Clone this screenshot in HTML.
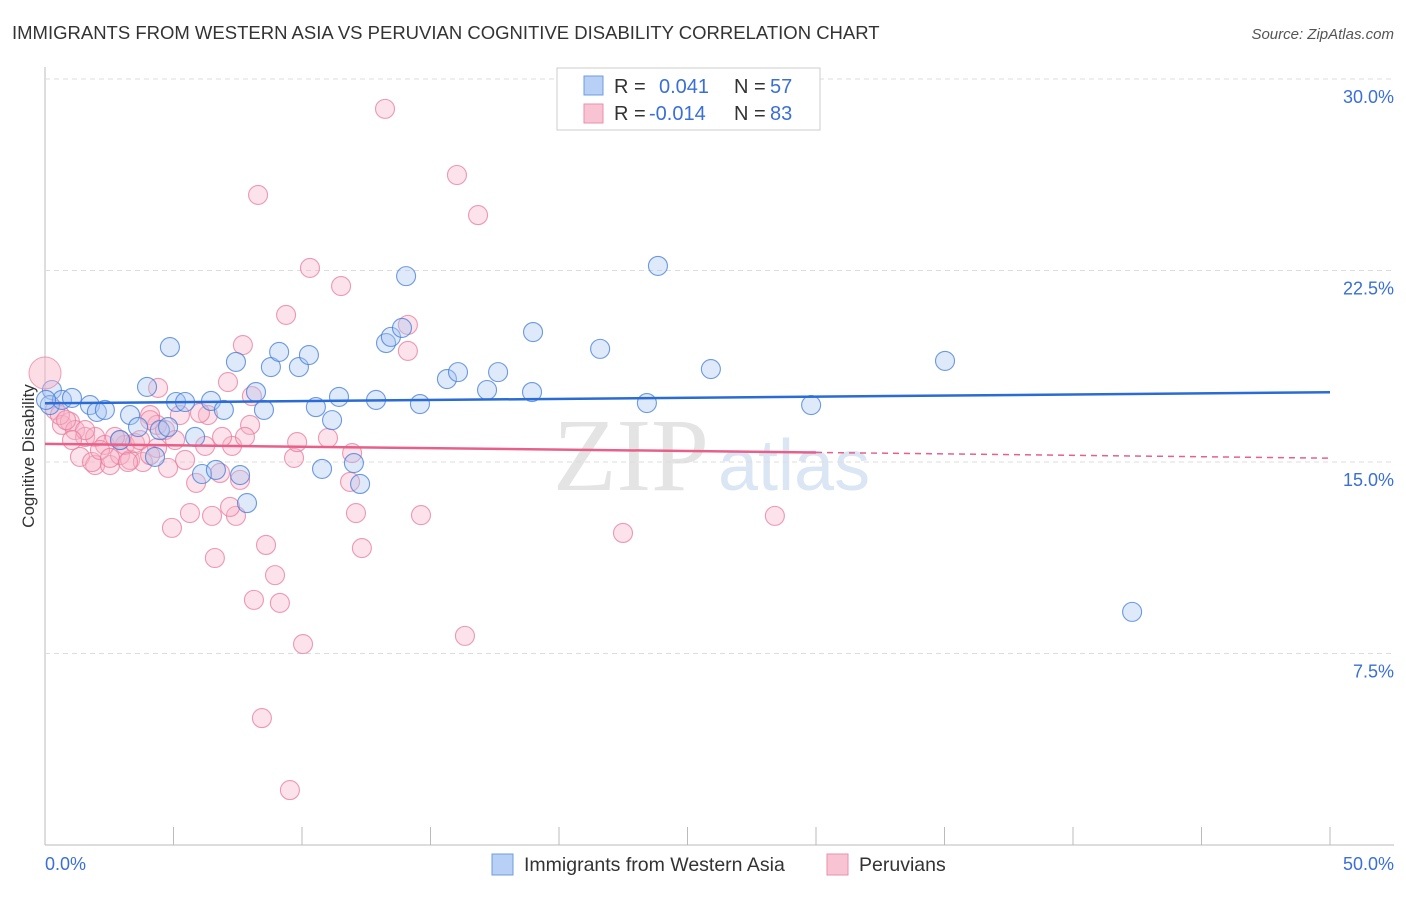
<!DOCTYPE html>
<html><head><meta charset="utf-8"><style>
body{margin:0;background:#fff;font-family:"Liberation Sans",sans-serif;}
svg text{font-family:"Liberation Sans",sans-serif;}
</style></head><body>
<svg width="1406" height="892" id="chart">
<text x="12" y="39" font-size="18.5" fill="#333">IMMIGRANTS FROM WESTERN ASIA VS PERUVIAN COGNITIVE DISABILITY CORRELATION CHART</text>
<text x="1394" y="39" font-size="15" fill="#555" text-anchor="end" font-style="italic">Source: ZipAtlas.com</text>
<text x="553" y="490" font-size="104" fill="#e4e4e4" font-family="Liberation Serif" style="font-family:'Liberation Serif',serif">ZIP</text>
<text x="718" y="490" font-size="72" fill="#dbe6f5">atlas</text>
<g id="grid"></g>
<g id="pts"></g>
<g id="lines"></g>
<text x="34" y="456" font-size="17" fill="#333" transform="rotate(-90 34 456)" text-anchor="middle">Cognitive Disability</text>
<text x="45" y="870" font-size="18" fill="#3a6fd8">0.0%</text>
<text x="1394" y="870" font-size="18" fill="#3a6fd8" text-anchor="end">50.0%</text>
<g>
<rect x="557" y="68" width="263" height="62" fill="#fff" stroke="#ccc"/>
<rect x="584" y="76" width="19" height="19" fill="#b8d0f5" stroke="#6e9de0"/>
<rect x="584" y="104" width="19" height="19" fill="#f8c4d3" stroke="#ea8fab"/>
<text x="614" y="93" font-size="20" fill="#333">R = </text><text x="659" y="93" font-size="20" fill="#3a6fd8">0.041</text>
<text x="734" y="93" font-size="20" fill="#333">N = </text><text x="770" y="93" font-size="20" fill="#3a6fd8">57</text>
<text x="614" y="120" font-size="20" fill="#333">R = </text><text x="649" y="120" font-size="20" fill="#3a6fd8">-0.014</text>
<text x="734" y="120" font-size="20" fill="#333">N = </text><text x="770" y="120" font-size="20" fill="#3a6fd8">83</text>
</g>
<g>
<rect x="492" y="854" width="21" height="21" fill="#b8d0f5" stroke="#6e9de0"/>
<text x="524" y="871" font-size="19.5" fill="#333">Immigrants from Western Asia</text>
<rect x="827" y="854" width="21" height="21" fill="#f8c4d3" stroke="#ea8fab"/>
<text x="859" y="871" font-size="19.5" fill="#333">Peruvians</text>
</g>
</svg>
<script>
const yTicks=[7.5,15,22.5,30];
const xTicks=[0,5,10,15,20,25,30,35,40,45,50];
const bluePx=[[52,390],[50,405],[62,400],[72,398],[90,405],[97,412],[105,410],[130,415],[138,427],[147,387],[170,347],[155,457],[160,430],[176,402],[185,402],[195,437],[202,474],[211,401],[216,470],[224,410],[236,362],[240,475],[247,503],[256,392],[264,410],[271,367],[279,352],[299,367],[309,355],[316,407],[322,469],[332,420],[339,397],[354,463],[360,484],[376,400],[386,343],[391,337],[402,328],[406,276],[420,404],[447,379],[458,372],[487,390],[498,372],[533,332],[532,392],[600,349],[647,403],[658,266],[711,369],[811,405],[945,361],[1132,612],[120,440],[168,427],[46,400]];
const pinkPx=[[55,410],[62,425],[70,422],[75,430],[85,437],[95,437],[80,457],[95,465],[92,462],[110,465],[105,445],[120,455],[130,460],[125,445],[135,443],[143,462],[150,415],[157,425],[157,448],[165,430],[168,468],[150,420],[158,388],[172,528],[180,415],[185,460],[190,513],[196,483],[205,446],[208,415],[212,516],[215,558],[220,473],[228,382],[232,446],[236,516],[240,480],[243,345],[250,425],[252,396],[254,600],[258,195],[262,718],[266,545],[275,575],[280,603],[286,315],[290,790],[294,458],[297,442],[303,644],[310,268],[328,438],[341,286],[350,482],[352,453],[356,513],[362,548],[385,109],[408,351],[408,325],[421,515],[457,175],[465,636],[478,215],[623,533],[775,516],[140,440],[100,450],[60,415],[230,507],[200,413],[110,458],[175,440],[85,430],[120,440],[222,437],[128,462],[245,437],[150,455],[115,437],[66,420],[72,440]];
const blueX=bluePx.map(p=>+((p[0]-45)/1285*50).toFixed(2));
const blueY=bluePx.map(p=>+((845-p[1])/766*30).toFixed(2));
const pinkX=pinkPx.map(p=>+((p[0]-45)/1285*50).toFixed(2));
const pinkY=pinkPx.map(p=>+((845-p[1])/766*30).toFixed(2));
const blueTrend=[17.3,17.73];
const pinkTrend=[15.71,15.15];
const X=v=>45+v/50*1285, Y=v=>845-v/30*766;
const NS='http://www.w3.org/2000/svg';
function mk(t,a,parent){const e=document.createElementNS(NS,t);for(const k in a)e.setAttribute(k,a[k]);document.getElementById(parent).appendChild(e);return e;}
let ax=mk('line',{x1:45,y1:67,x2:45,y2:845,stroke:'#bbb'},'grid');


let bx=mk('line',{x1:45,y1:845,x2:1394,y2:845,stroke:'#bbb'},'grid');


yTicks.forEach(t=>{
 let g=mk('line',{x1:45,x2:1394,y1:Y(t),y2:Y(t),stroke:'#ddd','stroke-dasharray':'5,4'},'grid');
 
 
 let l=mk('text',{x:1394,y:Y(t)+24,'font-size':18,fill:'#3a6fd8','text-anchor':'end'},'grid');l.textContent=t.toFixed(1)+'%';
 
 
});
xTicks.forEach(t=>{
 let k=mk('line',{x1:X(t),x2:X(t),y1:827,y2:845,stroke:'#bbb'},'grid');
 
 
});
function dots(xs,ys,fill,stroke,name){xs.forEach((x,i)=>{
 let c=mk('circle',{cx:X(x),cy:Y(ys[i]),r:9.5,fill:fill,'fill-opacity':0.38,stroke:stroke,'stroke-width':1.1,'stroke-opacity':0.75},'pts');
 
 
});}
dots(pinkX,pinkY,'#f8b4c8','#e87a9c','peruvian-point');
dots(blueX,blueY,'#a8c6f2','#3f7ad8','western-asia-point');
let big=mk('circle',{cx:45,cy:373,r:16,fill:'#f8b4c8','fill-opacity':0.45,stroke:'#e87a9c','stroke-opacity':0.7},'pts');


let bl=mk('line',{x1:X(0),y1:Y(blueTrend[0]),x2:X(50),y2:Y(blueTrend[1]),stroke:'#2a6bd6','stroke-width':2.5},'lines');


const pm=v=>pinkTrend[0]+(pinkTrend[1]-pinkTrend[0])*v/50;
let pl=mk('line',{x1:X(0),y1:Y(pm(0)),x2:X(30),y2:Y(pm(30)),stroke:'#e8608a','stroke-width':2.5},'lines');


let pd=mk('line',{x1:X(30),y1:Y(pm(30)),x2:X(50),y2:Y(pm(50)),stroke:'#e8608a','stroke-width':1.5,'stroke-dasharray':'6,5'},'lines');


</script>
</body></html>
